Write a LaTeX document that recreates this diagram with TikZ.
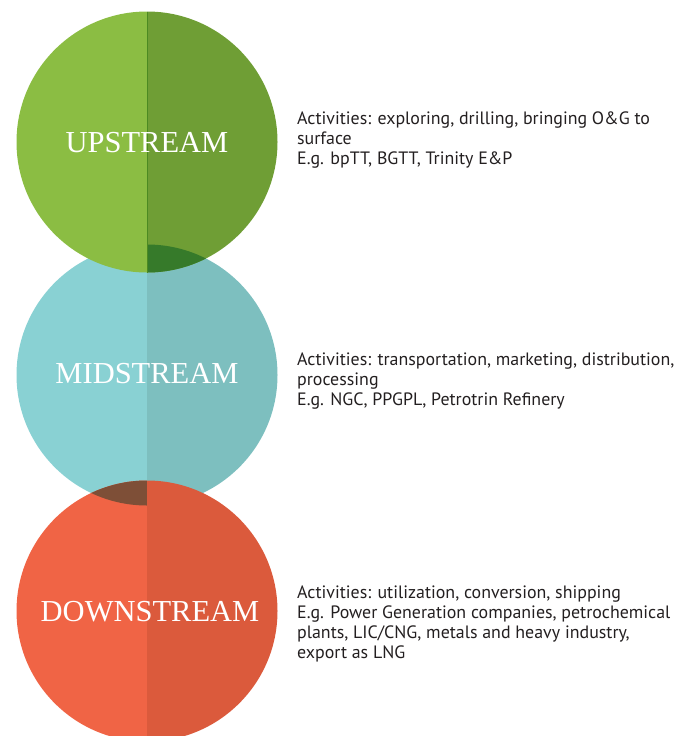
\documentclass[tikz,border=0pt]{standalone}
\usepackage{fontspec}
\setmainfont{PT Sans}
\newfontfamily\labelfont{Liberation Serif}
\definecolor{upL}{HTML}{8BBD43}
\definecolor{upR}{HTML}{6F9E35}
\definecolor{upLine}{HTML}{4C8A22}
\definecolor{upOver}{HTML}{367A2A}
\definecolor{midL}{HTML}{89D1D3}
\definecolor{midR}{HTML}{7DBFBF}
\definecolor{downL}{HTML}{F06445}
\definecolor{downR}{HTML}{DB5A3C}
\definecolor{downOver}{HTML}{7E4F37}
\definecolor{txt}{HTML}{231F20}
\tikzset{
  stagelabel/.style={text=white, font=\labelfont\fontsize{30.5}{34}\selectfont, inner sep=0pt, anchor=base},
  desc/.style={text=txt, font=\fontsize{17.9}{20}\selectfont, align=left, inner sep=0pt, anchor=base west}
}
\begin{document}
\begin{tikzpicture}[x=1pt,y=-1pt]
\useasboundingbox (0,0) rectangle (694,736);
\coordinate (U) at (147,142);
\coordinate (M) at (147,375);
\coordinate (D) at (147,611);
% midstream
\begin{scope}
  \clip (M) circle (130.5pt);
  \fill[midL] (0,200) rectangle (147,520);
  \fill[midR] (147,200) rectangle (300,520);
\end{scope}
% upstream
\begin{scope}
  \clip (U) circle (130.5pt);
  \fill[upL] (0,0) rectangle (147,290);
  \fill[upR] (147,0) rectangle (300,290);
\end{scope}
% overlap upstream/midstream
\begin{scope}
  \clip (U) circle (130.5pt);
  \clip (M) circle (130.5pt);
  \fill[upOver] (147,200) rectangle (300,300);
\end{scope}
\draw[upLine, line width=0.9pt] (147,11.5) -- (147,272.5);
% downstream
\begin{scope}
  \clip (D) circle (130.5pt);
  \fill[downL] (0,460) rectangle (147,760);
  \fill[downR] (147,460) rectangle (300,760);
\end{scope}
% overlap midstream/downstream
\begin{scope}
  \clip (M) circle (130.5pt);
  \clip (D) circle (130.5pt);
  \fill[downOver] (0,460) rectangle (147,520);
\end{scope}
% labels
\node[stagelabel] (upl) at (147,152) {UPSTREAM};
\node[stagelabel] (midl) at (147,383) {MIDSTREAM};
\node[stagelabel] (downl) at (150,621) {DOWNSTREAM};
% descriptions (anchor = baseline of last line)
\node[desc] (upt) at (297,164) {Activities: exploring, drilling, bringing O\&G to\\surface\\E.g. bpTT, BGTT, Trinity E\&P};
\node[desc] (midt) at (297,405) {Activities: transportation, marketing, distribution,\\processing\\E.g. NGC, PPGPL, Petrotrin Refinery};
\node[desc] (downt) at (297,658) {Activities: utilization, conversion, shipping\\E.g. Power Generation companies, petrochemical\\plants, LIC/CNG, metals and heavy industry,\\export as LNG};
\end{tikzpicture}
\end{document}
